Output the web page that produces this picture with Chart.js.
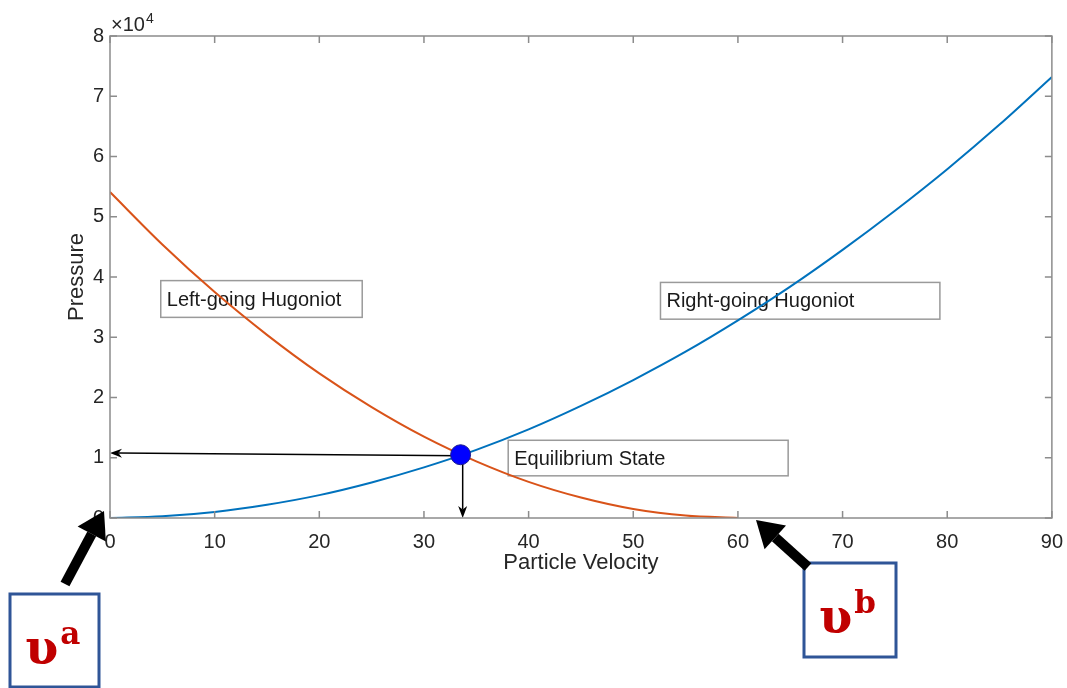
<!DOCTYPE html>
<html>
<head>
<meta charset="utf-8">
<title>Hugoniot intersection</title>
<script src="https://cdn.jsdelivr.net/npm/chart.js@4.4.0/dist/chart.umd.min.js"></script>
<style>
  body { margin: 0; background: #fff; }
</style>
</head>
<body>
<canvas id="chart" width="1067" height="688"></canvas>
<script>
// values
const rightVelocity = [0, 5, 10, 15, 20, 25, 30, 35, 40, 45, 50, 55, 60, 65, 70, 75, 80, 85, 90];
const rightPressure = [0, 280, 1000, 2200, 3800, 5900, 8400, 11300, 14700, 18600, 22900, 27600, 32800, 38400, 44500, 51000, 57900, 65300, 73200];
const leftVelocity = [0, 5, 10, 15, 20, 25, 30, 35, 40, 45, 50, 55, 60];
const leftPressure = [54100, 45400, 37500, 30400, 24000, 18400, 13500, 9400, 6000, 3400, 1500, 400, 0];
const eqVelocity = [33.5];
const eqPressure = [10500];
const xTickValues = [0, 10, 20, 30, 40, 50, 60, 70, 80, 90];
const yTickValues = [0, 10000, 20000, 30000, 40000, 50000, 60000, 70000, 80000];

const FONT = "'Liberation Sans', Arial, sans-serif";
const AXIS_GRAY = '#8c8c8c';

function toPoints(xs, ys) {
    return xs.map((v, i) => ({ x: v, y: ys[i] }));
}

function drawArrow(ctx, x1, y1, x2, y2, width, headLen, headWidth, back) {
    const ang = Math.atan2(y2 - y1, x2 - x1);
    const cos = Math.cos(ang), sin = Math.sin(ang);
    const bx = x2 - cos * headLen, by = y2 - sin * headLen;
    ctx.save();
    ctx.strokeStyle = '#000';
    ctx.fillStyle = '#000';
    ctx.lineWidth = width;
    ctx.beginPath();
    ctx.moveTo(x1, y1);
    ctx.lineTo(x2 - cos * headLen * (1 - back), y2 - sin * headLen * (1 - back));
    ctx.stroke();
    ctx.beginPath();
    ctx.moveTo(x2, y2);
    ctx.lineTo(bx - sin * headWidth / 2, by + cos * headWidth / 2);
    ctx.lineTo(x2 - cos * headLen * (1 - back), y2 - sin * headLen * (1 - back));
    ctx.lineTo(bx + sin * headWidth / 2, by - cos * headWidth / 2);
    ctx.closePath();
    ctx.fill();
    ctx.restore();
}

function textBox(ctx, x, y, u0, p0, u1, p1, text) {
    const left = x.getPixelForValue(u0), right = x.getPixelForValue(u1);
    const top = y.getPixelForValue(p0), bottom = y.getPixelForValue(p1);
    ctx.save();
    ctx.strokeStyle = '#9a9a9a';
    ctx.lineWidth = 1.5;
    ctx.strokeRect(left, top, right - left, bottom - top);
    ctx.fillStyle = '#1a1a1a';
    ctx.font = '20px ' + FONT;
    ctx.textBaseline = 'middle';
    ctx.textAlign = 'left';
    ctx.fillText(text, left + 6, (top + bottom) / 2 + 1);
    ctx.restore();
}

function upsilonBox(ctx, left, top, w, h, sup, baseline) {
    ctx.save();
    ctx.strokeStyle = '#2f5597';
    ctx.lineWidth = 3;
    ctx.strokeRect(left, top, w, h);
    ctx.fillStyle = '#c00000';
    ctx.textBaseline = 'alphabetic';
    ctx.textAlign = 'left';
    ctx.font = "bold 48px 'DejaVu Serif', serif";
    ctx.fillText('\u03C5', left + 15, baseline);
    const gw = ctx.measureText('\u03C5').width;
    ctx.font = "bold 31px 'DejaVu Serif', serif";
    ctx.fillText(sup, left + 15 + gw + 2, baseline - 20);
    ctx.restore();
}

const annotations = {
    id: 'annotations',
    beforeDatasetsDraw(chart) {
        const { ctx, scales: { x, y } } = chart;
        textBox(ctx, x, y, 4.85, 39400, 24.1, 33300, 'Left-going Hugoniot');
        textBox(ctx, x, y, 52.6, 39100, 79.3, 33000, 'Right-going Hugoniot');
        textBox(ctx, x, y, 38.05, 12900, 64.8, 7000, 'Equilibrium State');
        // arrows from the equilibrium point to the axes
        drawArrow(ctx, x.getPixelForValue(33.5), y.getPixelForValue(10330),
            x.getPixelForValue(0), y.getPixelForValue(10780), 1.5, 12, 9, 0.3);
        drawArrow(ctx, x.getPixelForValue(33.7), y.getPixelForValue(10400),
            x.getPixelForValue(33.7), y.getPixelForValue(0), 1.5, 12, 9, 0.3);
    },
    afterDraw(chart) {
        const { ctx, chartArea: a, scales: { x, y } } = chart;
        ctx.save();
        ctx.strokeStyle = AXIS_GRAY;
        ctx.lineWidth = 1.5;
        ctx.strokeRect(a.left, a.top, a.right - a.left, a.bottom - a.top);
        ctx.beginPath();
        xTickValues.forEach(v => {
            const px = x.getPixelForValue(v);
            ctx.moveTo(px, a.bottom); ctx.lineTo(px, a.bottom - 7);
            ctx.moveTo(px, a.top); ctx.lineTo(px, a.top + 7);
        });
        yTickValues.forEach(v => {
            const py = y.getPixelForValue(v);
            ctx.moveTo(a.left, py); ctx.lineTo(a.left + 7, py);
            ctx.moveTo(a.right, py); ctx.lineTo(a.right - 7, py);
        });
        ctx.stroke();

        // exponent label
        ctx.fillStyle = '#262626';
        ctx.textBaseline = 'alphabetic';
        ctx.textAlign = 'left';
        ctx.font = '20px ' + FONT;
        ctx.fillText('\u00D710', a.left + 1, a.top - 5);
        const w = ctx.measureText('\u00D710').width;
        ctx.font = '14px ' + FONT;
        ctx.fillText('4', a.left + 2 + w, a.top - 13);
        ctx.restore();

        // labelled end states below the axis
        upsilonBox(ctx, 10, 594, 89, 93, 'a', 664);
        upsilonBox(ctx, 804, 563, 92, 94, 'b', 633);
        drawArrow(ctx, 65, 584, 104, 511, 10, 26, 32, 0);
        drawArrow(ctx, 808, 567, 756, 520, 10, 26, 32, 0);
    }
};

new Chart(document.getElementById('chart'), {
    type: 'scatter',
    data: {
        datasets: [{
            label: 'Equilibrium State',
            data: toPoints(eqVelocity, eqPressure),
            pointRadius: 10,
            pointBackgroundColor: '#0000ff',
            pointBorderColor: '#1a1a8c',
            pointBorderWidth: 1,
            order: 0
        }, {
            label: 'Right-going Hugoniot',
            data: toPoints(rightVelocity, rightPressure),
            showLine: true,
            borderColor: '#0072BD',
            borderWidth: 2,
            pointRadius: 0,
            cubicInterpolationMode: 'monotone',
            order: 1
        }, {
            label: 'Left-going Hugoniot',
            data: toPoints(leftVelocity, leftPressure),
            showLine: true,
            borderColor: '#D95319',
            borderWidth: 2,
            pointRadius: 0,
            cubicInterpolationMode: 'monotone',
            order: 2
        }]
    },
    options: {
        responsive: false,
        animation: false,
        devicePixelRatio: 1,
        layout: { padding: { top: 36, right: 11, left: 0, bottom: 0 } },
        plugins: {
            legend: { display: false },
            tooltip: { enabled: false }
        },
        scales: {
            x: {
                type: 'linear',
                min: 0,
                max: 90,
                afterFit: (scale) => { scale.height = 170; },
                afterBuildTicks: (scale) => { scale.ticks = xTickValues.map(v => ({ value: v })); },
                grid: { display: false },
                border: { display: false },
                ticks: { color: '#262626', font: { family: FONT, size: 20 }, padding: 4 },
                title: {
                    display: true,
                    text: 'Particle Velocity',
                    color: '#262626',
                    font: { family: FONT, size: 22 },
                    padding: { top: 0, bottom: 112 }
                }
            },
            y: {
                type: 'linear',
                min: 0,
                max: 80000,
                afterFit: (scale) => { scale.width = 110; },
                afterBuildTicks: (scale) => { scale.ticks = yTickValues.map(v => ({ value: v })); },
                grid: { display: false },
                border: { display: false },
                ticks: {
                    color: '#262626',
                    font: { family: FONT, size: 20 },
                    padding: -2,
                    callback: (v) => v / 10000
                },
                title: {
                    display: true,
                    text: 'Pressure',
                    color: '#262626',
                    font: { family: FONT, size: 22 },
                    padding: { top: 64, bottom: 0 }
                }
            }
        }
    },
    plugins: [annotations]
});
</script>
</body>
</html>
